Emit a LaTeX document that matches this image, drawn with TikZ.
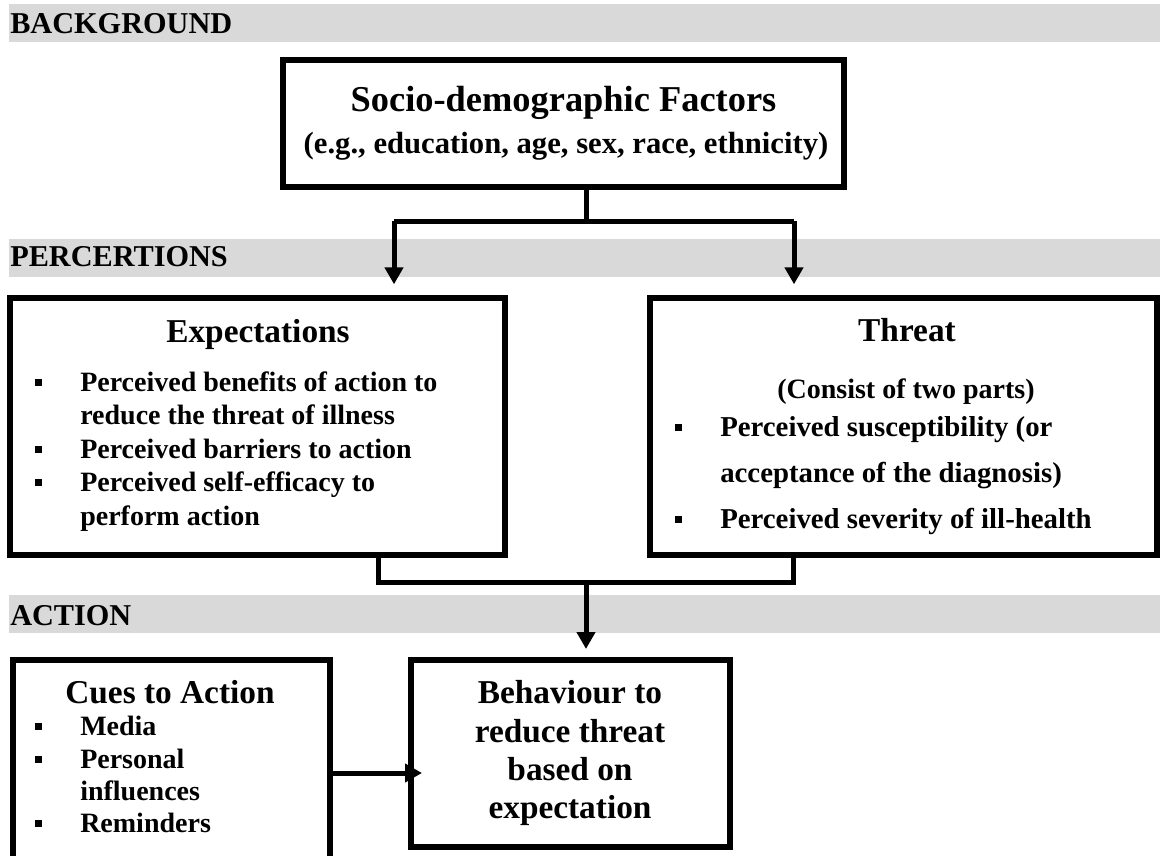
\documentclass[tikz,border=0pt]{standalone}
\usepackage{fontspec}
\setmainfont{Liberation Serif}
\usetikzlibrary{arrows.meta}
\definecolor{bandgray}{HTML}{D9D9D9}
\begin{document}
\begin{tikzpicture}[x=0.75pt,y=-0.75pt,
  box/.style={draw=black, line width=4.5pt, fill=white, inner sep=0pt},
  conn/.style={line width=3.75pt},
  arr/.style={conn, -{Triangle[width=13.5pt,length=12.75pt]}},
  head/.style={font=\bfseries\fontsize{22.7}{26}\selectfont, anchor=base west, inner sep=0pt},
  ttl/.style={font=\bfseries\fontsize{25}{29}\selectfont, anchor=base, inner sep=0pt},
  itm/.style={font=\bfseries\fontsize{21}{25}\selectfont, anchor=base west, inner sep=0pt},
  ctr/.style={font=\bfseries\fontsize{21}{25}\selectfont, anchor=base, inner sep=0pt},
  bul/.style={fill=black, minimum size=5.25pt, inner sep=0pt}
]
\useasboundingbox (0,0) rectangle (1160,856);
\clip (0,0) rectangle (1160,856);

% section bands
\fill[bandgray] (9,4) rectangle (1160,42);
\fill[bandgray] (9,239) rectangle (1160,277);
\fill[bandgray] (9,595) rectangle (1160,633);
\node[head] (hbg) at (10,34) {BACKGROUND};
\node[head] (hpc) at (10,266) {PERCERTIONS};
\node[head] (hac) at (10,625) {ACTION};

% boxes
\node[box, minimum width=420.75pt, minimum height=95.25pt] (socio) at (563.5,123.5) {};
\node[box, minimum width=371.25pt, minimum height=192.75pt] (expect) at (257.5,426.5) {};
\node[box, minimum width=380.25pt, minimum height=192.75pt] (threat) at (903.5,426.5) {};
\node[box, minimum width=237.75pt, minimum height=165pt] (cues) at (171.5,770) {};
\node[box, minimum width=239.25pt, minimum height=140.25pt] (behav) at (570.5,753.5) {};

% socio-demographic factors
\node[ttl, font=\bfseries\fontsize{27.3}{31}\selectfont] (sdt) at (563.5,112) {Socio-demographic Factors};
\node[ctr, font=\bfseries\fontsize{23}{27}\selectfont] (sde) at (566,153) {(e.g., education, age, sex, race, ethnicity)};

% expectations
\node[ttl] (ext) at (258,342) {Expectations};
\node[itm] (ex1) at (80,391) {Perceived benefits of action to};
\node[itm] (ex2) at (80,424) {reduce the threat of illness};
\node[itm] (ex3) at (80,458) {Perceived barriers to action};
\node[itm] (ex4) at (80,491) {Perceived self-efficacy to};
\node[itm] (ex5) at (80,525) {perform action};
\node[bul] (eb1) at (38,382) {};
\node[bul] (eb3) at (38,449) {};
\node[bul] (eb4) at (38,482) {};

% threat
\node[ttl] (tht) at (907,341) {Threat};
\node[ctr] (thc) at (906,398) {(Consist of two parts)};
\node[itm, font=\bfseries\fontsize{21.6}{25}\selectfont] (th1) at (720,436) {Perceived susceptibility (or};
\node[itm, font=\bfseries\fontsize{21.6}{25}\selectfont] (th2) at (720,482) {acceptance of the diagnosis)};
\node[itm, font=\bfseries\fontsize{21.6}{25}\selectfont] (th3) at (720,528) {Perceived severity of ill-health};
\node[bul] (tb1) at (678,427) {};
\node[bul] (tb3) at (678,519) {};

% cues to action
\node[ttl] (cut) at (170,703) {Cues to Action};
\node[itm] (cu1) at (80,735) {Media};
\node[itm] (cu2) at (80,768) {Personal};
\node[itm] (cu3) at (80,800) {influences};
\node[itm] (cu4) at (80,832) {Reminders};
\node[bul] (cb1) at (38,726) {};
\node[bul] (cb2) at (38,759) {};
\node[bul] (cb4) at (38,823) {};

% behaviour
\node[ttl] (be1) at (570,703) {Behaviour to};
\node[ttl] (be2) at (570,742) {reduce threat};
\node[ttl] (be3) at (570,780) {based on};
\node[ttl] (be4) at (570,818) {expectation};

% connectors
\coordinate (topmid) at (586,221);
\coordinate (topl) at (394,221);
\coordinate (topr) at (794,221);
\draw[conn] (socio.south -| topmid) -- (topmid);
\draw[conn] (topl) -- (topr);
\draw[arr, shorten >=8pt] (topl) -- (topl |- expect.north);
\draw[arr, shorten >=8pt] (topr) -- (topr |- threat.north);

\coordinate (botl) at (378,582);
\coordinate (botr) at (793,582);
\coordinate (botmid) at (586,582);
\draw[conn] (botl |- expect.south) -- (botl) -- (botr) -- (botr |- threat.south);
\draw[arr, shorten >=6pt] (botmid) -- (botmid |- behav.north);

\coordinate (cuearr) at (0,773);
\draw[arr, shorten >=-10.5pt] (cues.east |- cuearr) -- (behav.west |- cuearr);
\end{tikzpicture}
\end{document}
